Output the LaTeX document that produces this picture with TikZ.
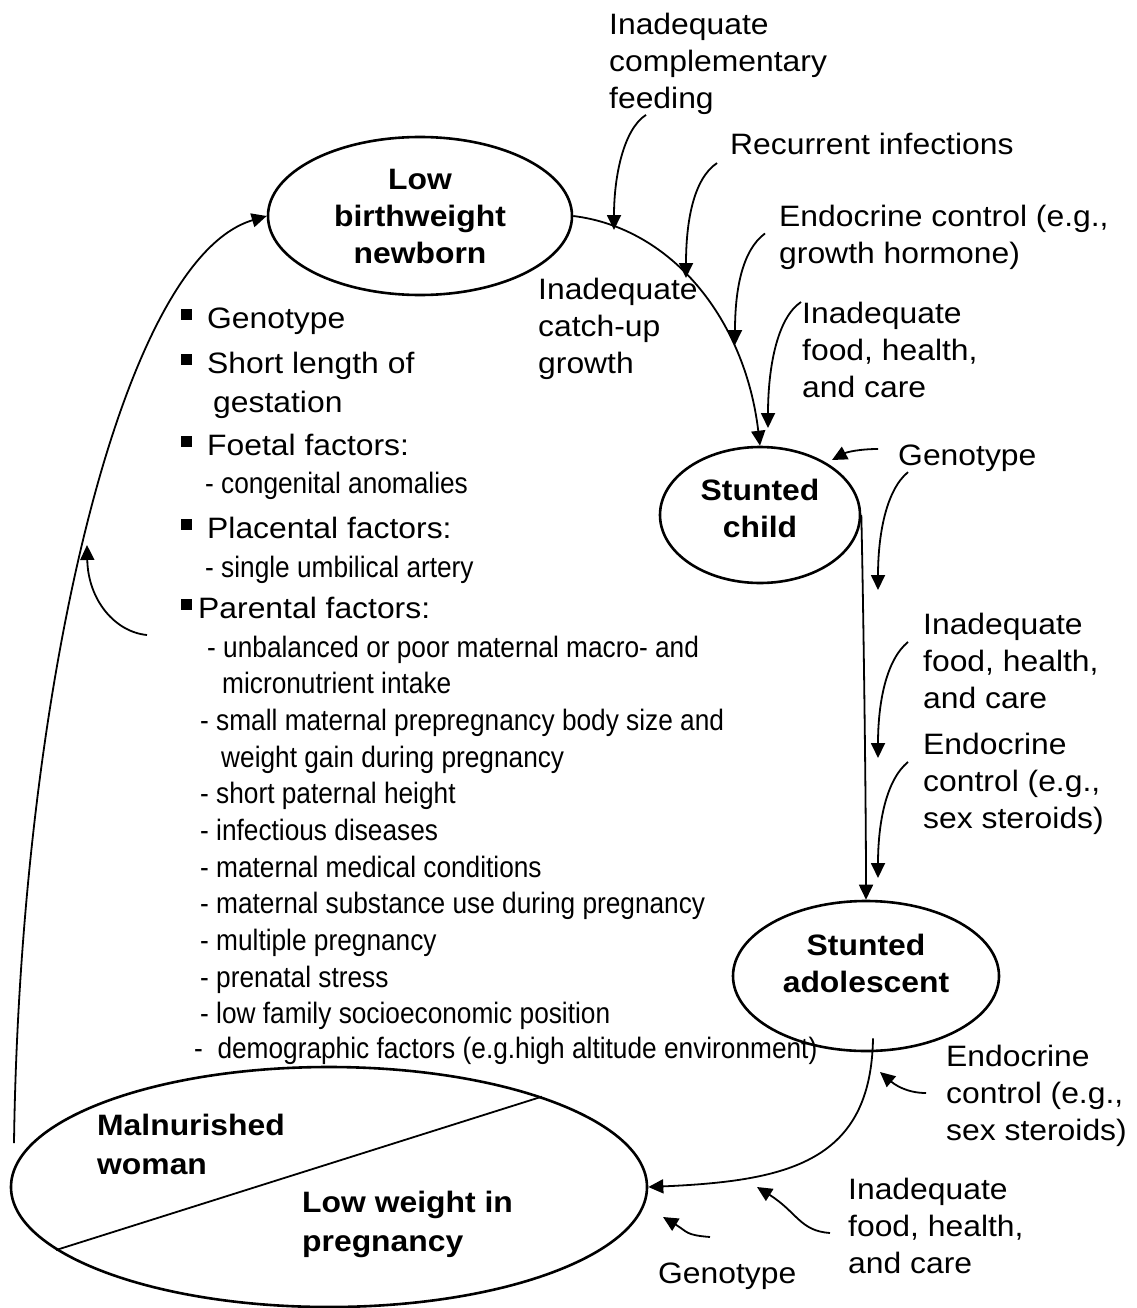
\documentclass[tikz,border=0pt]{standalone}
\usepackage{fontspec}
\setmainfont{Liberation Sans}[FakeStretch=1.08]
\newfontfamily\narrowfont{Liberation Sans}[FakeStretch=0.89]
\usepackage{tikz}
\usetikzlibrary{arrows.meta, shapes.geometric}

\newcommand{\sqbul}{\rule[8.5pt]{11pt}{11pt}}

\tikzset{
    lbl/.style={font=\fontsize{29.5}{37}\selectfont, align=left, inner sep=0pt, anchor=north west},
    item/.style={font=\fontsize{29.5}{37}\selectfont, inner sep=0pt, anchor=base west},
    sub/.style={font=\narrowfont\fontsize{29.5}{37}\selectfont, inner sep=0pt, anchor=base west},
    oval/.style={draw, ellipse, line width=2.6pt, inner sep=0pt, align=center, font=\bfseries\fontsize{29.5}{37}\selectfont},
    feed/.style={line width=1.8pt, -{Triangle[length=15pt,width=14pt]}},
}

\begin{document}
\begin{tikzpicture}[x=1pt, y=-1pt]
    \useasboundingbox (0,0) rectangle (1136,1308);

    % stages of the cycle
    \node[oval, minimum width=304pt, minimum height=158pt] (new) at (420,216) {Low\\birthweight\\newborn};
    \node[oval, minimum width=200pt, minimum height=136pt] (stunt) at (760,515) {Stunted\\child\rule[-14pt]{0pt}{0pt}};
    \node[oval, minimum width=266pt, minimum height=150pt] (adol) at (866,976) {Stunted\\adolescent\rule[-26pt]{0pt}{0pt}};
    \node[draw, ellipse, line width=2.6pt, minimum width=636pt, minimum height=240pt] (mal) at (329,1187) {};
    \draw[line width=1.8pt] (mal.193) -- (mal.23);
    \node[lbl, font=\bfseries\fontsize{29.5}{39}\selectfont] (woman) at (97,1114) {Malnurished\\woman};
    \node[lbl, font=\bfseries\fontsize{29.5}{39}\selectfont] (preg) at (302,1191) {Low weight in\\pregnancy};

    % influences
    \node[lbl] (compl) at (609,13) {Inadequate\\complementary\\feeding};
    \node[lbl] (rec) at (730,133) {Recurrent infections};
    \node[lbl] (endo1) at (779,205) {Endocrine control (e.g.,\\growth hormone)};
    \node[lbl] (food1) at (802,302) {Inadequate\\food, health,\\and care};
    \node[lbl] (catch) at (538,278) {Inadequate\\catch-up\\growth};
    \node[lbl] (geno1) at (898,445) {Genotype};
    \node[lbl] (food2) at (923,613) {Inadequate\\food, health,\\and care};
    \node[lbl] (endo2) at (923,733) {Endocrine\\control (e.g.,\\sex steroids)};
    \node[lbl] (endo3) at (946,1045) {Endocrine\\control (e.g.,\\sex steroids)};
    \node[lbl] (food3) at (848,1178) {Inadequate\\food, health,\\and care};
    \node[lbl] (geno3) at (658,1263) {Genotype};

    % causes of low birthweight
    \foreach \x/\y/\t [count=\i] in {181/328/{\sqbul\hspace{15pt}Genotype},
        181/373/{\sqbul\hspace{15pt}Short length of}, 213/412/{gestation},
        181/455/{\sqbul\hspace{15pt}Foetal factors:}, 181/538/{\sqbul\hspace{15pt}Placental factors:},
        181/618/{\sqbul\hspace{6pt}Parental factors:}}
        \node[item] (b\i) at (\x,\y) {\t};
    \foreach \x/\y/\t [count=\i] in {205/493/{- congenital anomalies},
        205/577/{- single umbilical artery},
        207/657/{- unbalanced or poor maternal macro- and},
        222/693/{micronutrient intake},
        200/730/{- small maternal prepregnancy body size and},
        221/767/{weight gain during pregnancy},
        200/803/{- short paternal height},
        200/840/{- infectious diseases},
        200/877/{- maternal medical conditions},
        200/913/{- maternal substance use during pregnancy},
        200/950/{- multiple pregnancy},
        200/987/{- prenatal stress},
        200/1023/{- low family socioeconomic position},
        194/1058/{-\ \ demographic factors (e.g.high altitude environment)}}
        \node[sub] (s\i) at (\x,\y) {\t};

    % arrow tips on the paths
    \coordinate (t1) at (614,230);
    \coordinate (t2) at (686,278);
    \coordinate (t3) at (735,345);
    \coordinate (t4) at (768,428);
    \coordinate (tg) at (832,460);
    \coordinate (t5) at (878,590);
    \coordinate (t6) at (878,758);
    \coordinate (t7) at (878,878);
    \coordinate (t8) at (880,1072);
    \coordinate (t9) at (757,1187);
    \coordinate (t10) at (663,1217);
    \coordinate (tl) at (87,545);
    \coordinate (lstart) at (14,1143);

    % the cycle
    \draw[feed] (new.east) .. controls +(98,12) and +(-15,-127) .. (stunt.north);
    \draw[feed] (stunt.east) .. controls +(2,85) and +(0,-100) .. (adol.north);
    \draw[feed] ([xshift=7pt,yshift=14pt]adol.south) .. controls +(-2,123) and +(141,-6) .. (mal.east);
    \draw[feed] (lstart) .. controls +(6,-443) and +(-148,44) .. (new.west);

    % influence arrows
    \draw[feed] ([xshift=37pt]compl.south west) .. controls +(-22,14) and +(0,-55) .. (t1);
    \draw[feed] ([xshift=-13pt,yshift=-8pt]rec.south west) .. controls +(-24,16) and +(0,-55) .. (t2);
    \draw[feed] ([xshift=-14pt,yshift=4pt]endo1.west) .. controls +(-23,17) and +(0,-55) .. (t3);
    \draw[feed] ([xshift=-1pt]food1.north west) .. controls +(-24,16) and +(0,-60) .. (t4);
    \draw[feed] ([xshift=-20pt,yshift=-4pt]geno1.north west) .. controls +(-18,0) and +(15,-8) .. (tg);
    \draw[feed] ([xshift=10pt]geno1.south west) .. controls +(-22,18) and +(0,-55) .. (t5);
    \draw[feed] ([xshift=-15pt,yshift=-29pt]food2.north west) .. controls +(-22,18) and +(0,-55) .. (t6);
    \draw[feed] ([xshift=-15pt,yshift=-29pt]endo2.north west) .. controls +(-22,18) and +(0,-55) .. (t7);
    \draw[feed] ([xshift=-20pt,yshift=-48pt]endo3.north west) .. controls +(-20,0) and +(14,12) .. (t8);
    \draw[feed] ([xshift=-18pt,yshift=-55pt]food3.north west) .. controls +(-30,-2) and +(40,25) .. (t9);
    \draw[feed] ([xshift=52pt,yshift=26pt]geno3.north west) .. controls +(-25,-2) and +(25,15) .. (t10);
    \draw[feed] ([xshift=-34pt,yshift=-17pt]b6.base west) .. controls +(-32,-3) and +(1,55) .. (tl);
\end{tikzpicture}
\end{document}
